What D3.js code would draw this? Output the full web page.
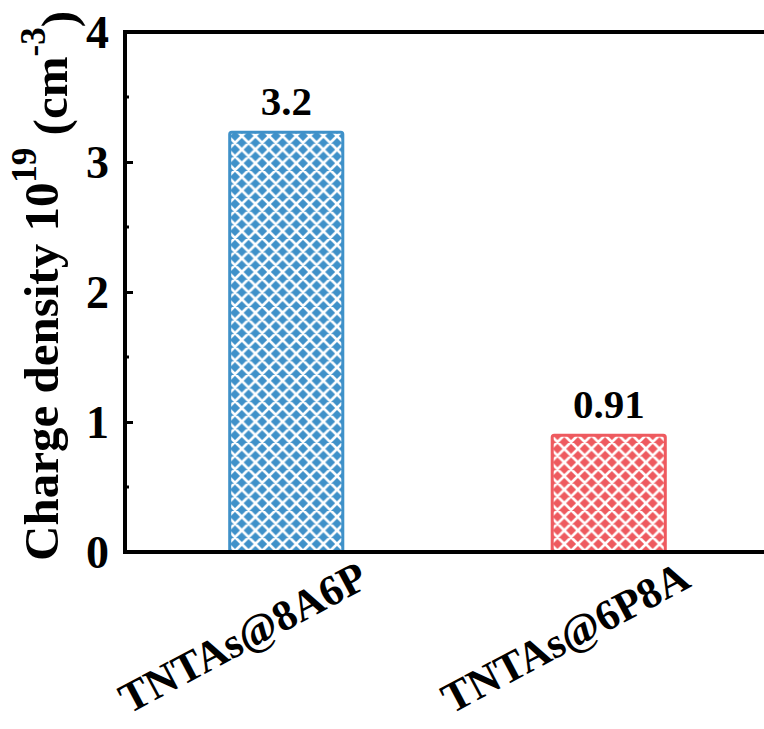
<!DOCTYPE html>
<html>
<head>
<meta charset="utf-8">
<script src="https://cdn.jsdelivr.net/npm/d3@7"></script>
<style>
  html, body { margin: 0; padding: 0; background: #fff; }
  svg { display: block; }
</style>
</head>
<body>
<svg id="chart" width="764" height="729"></svg>
<script>
const categories = ["TNTAs@8A6P", "TNTAs@6P8A"];
const values = [3.24, 0.91];
const valueLabels = ["3.2", "0.91"];
const barColors = ["#3f91c9", "#ee5a5f"];
const yTicks = [0, 1, 2, 3, 4];
const yMinorTicks = [0.5, 1.5, 2.5, 3.5];

(function () {
const FONT = "font-family:'Liberation Serif','Times New Roman',serif;font-weight:bold;fill:#000;";
const svg = d3.select("#chart");
const W = 764, H = 729;
const mLeft = 125, mRight = 770, mTop = 32, mBottom = 552;

const x = d3.scaleBand().domain(categories).range([mLeft, mRight])
  .paddingInner(0.64).paddingOuter(0.32);
const y = d3.scaleLinear().domain([0, 4]).range([mBottom, mTop]);

// hatch patterns
const defs = svg.append("defs");
categories.forEach((c, i) => {
  const p = defs.append("pattern")
    .attr("id", "hatch" + i)
    .attr("patternUnits", "userSpaceOnUse")
    .attr("width", 13.6).attr("height", 13.6)
    .attr("x", x(c)).attr("y", 0);
  p.append("rect").attr("width", 13.6).attr("height", 13.6).attr("fill", barColors[i]);
  p.append("path")
    .attr("d", "M-1,-1 L14.6,14.6 M-1,14.6 L14.6,-1 M-7.8,5.8 L5.8,-7.8 M7.8,21.4 L21.4,7.8 M-7.8,7.8 L5.8,21.4 M7.8,-7.8 L21.4,5.8")
    .attr("stroke", "#fff").attr("stroke-width", 2.6).attr("fill", "none");
});

// bars
svg.append("g").selectAll("rect").data(categories).join("rect")
  .attr("x", (d) => x(d) + 1.5)
  .attr("y", (d, i) => y(values[i]) + 1.5)
  .attr("width", x.bandwidth() - 3)
  .attr("height", (d, i) => y(0) - y(values[i]) - 1.5)
  .attr("rx", 2)
  .attr("fill", (d, i) => "url(#hatch" + i + ")")
  .attr("stroke", (d, i) => barColors[i])
  .attr("stroke-width", 3);

// value labels
svg.append("g").selectAll("text").data(categories).join("text")
  .attr("x", (d) => x(d) + x.bandwidth() / 2)
  .attr("y", (d, i) => y(values[i]) - 16)
  .attr("text-anchor", "middle")
  .attr("style", FONT + "font-size:41px")
  .text((d, i) => valueLabels[i]);

// y axis
const yAxis = svg.append("g").attr("transform", `translate(${mLeft},0)`)
  .call(d3.axisLeft(y).tickValues(yTicks).tickSize(-8).tickPadding(16).tickFormat(d3.format("d")));
yAxis.select(".domain").remove();
yAxis.selectAll(".tick line").attr("stroke", "#000").attr("stroke-width", 3);
yAxis.selectAll(".tick text").attr("style", FONT + "font-size:46px").attr("dy", "0.34em");

svg.append("g").attr("transform", `translate(${mLeft},0)`)
  .selectAll("line").data(yMinorTicks).join("line")
  .attr("x1", 0).attr("x2", 4)
  .attr("y1", (d) => y(d)).attr("y2", (d) => y(d))
  .attr("stroke", "#000").attr("stroke-width", 3);

// frame lines
svg.append("line").attr("x1", mLeft).attr("x2", mLeft).attr("y1", mTop - 2).attr("y2", mBottom + 2)
  .attr("stroke", "#000").attr("stroke-width", 4);
svg.append("line").attr("x1", mLeft - 2).attr("x2", W + 10).attr("y1", mBottom).attr("y2", mBottom)
  .attr("stroke", "#000").attr("stroke-width", 4);
svg.append("line").attr("x1", mLeft - 2).attr("x2", W + 10).attr("y1", mTop).attr("y2", mTop)
  .attr("stroke", "#000").attr("stroke-width", 4);

// x labels (rotated)
svg.append("g").selectAll("text").data(categories).join("text")
  .attr("transform", (d) => `translate(${x(d) + x.bandwidth() / 2 + 84},${mBottom + 34}) rotate(-28)`)
  .attr("text-anchor", "end")
  .attr("style", FONT + "font-size:43px")
  .text((d) => d);

// y label
const yl = svg.append("text")
  .attr("transform", `translate(58,286) rotate(-90)`)
  .attr("text-anchor", "middle")
  .attr("style", FONT + "font-size:49px");
yl.append("tspan").text("Charge density 10");
yl.append("tspan").attr("style", "font-size:35px").attr("dy", "-0.62em").text("19");
yl.append("tspan").attr("dy", "0.62em").text(" (cm");
yl.append("tspan").attr("style", "font-size:35px").attr("dy", "-0.62em").text("-3");
yl.append("tspan").attr("dy", "0.62em").text(")");
})();
</script>
</body>
</html>
